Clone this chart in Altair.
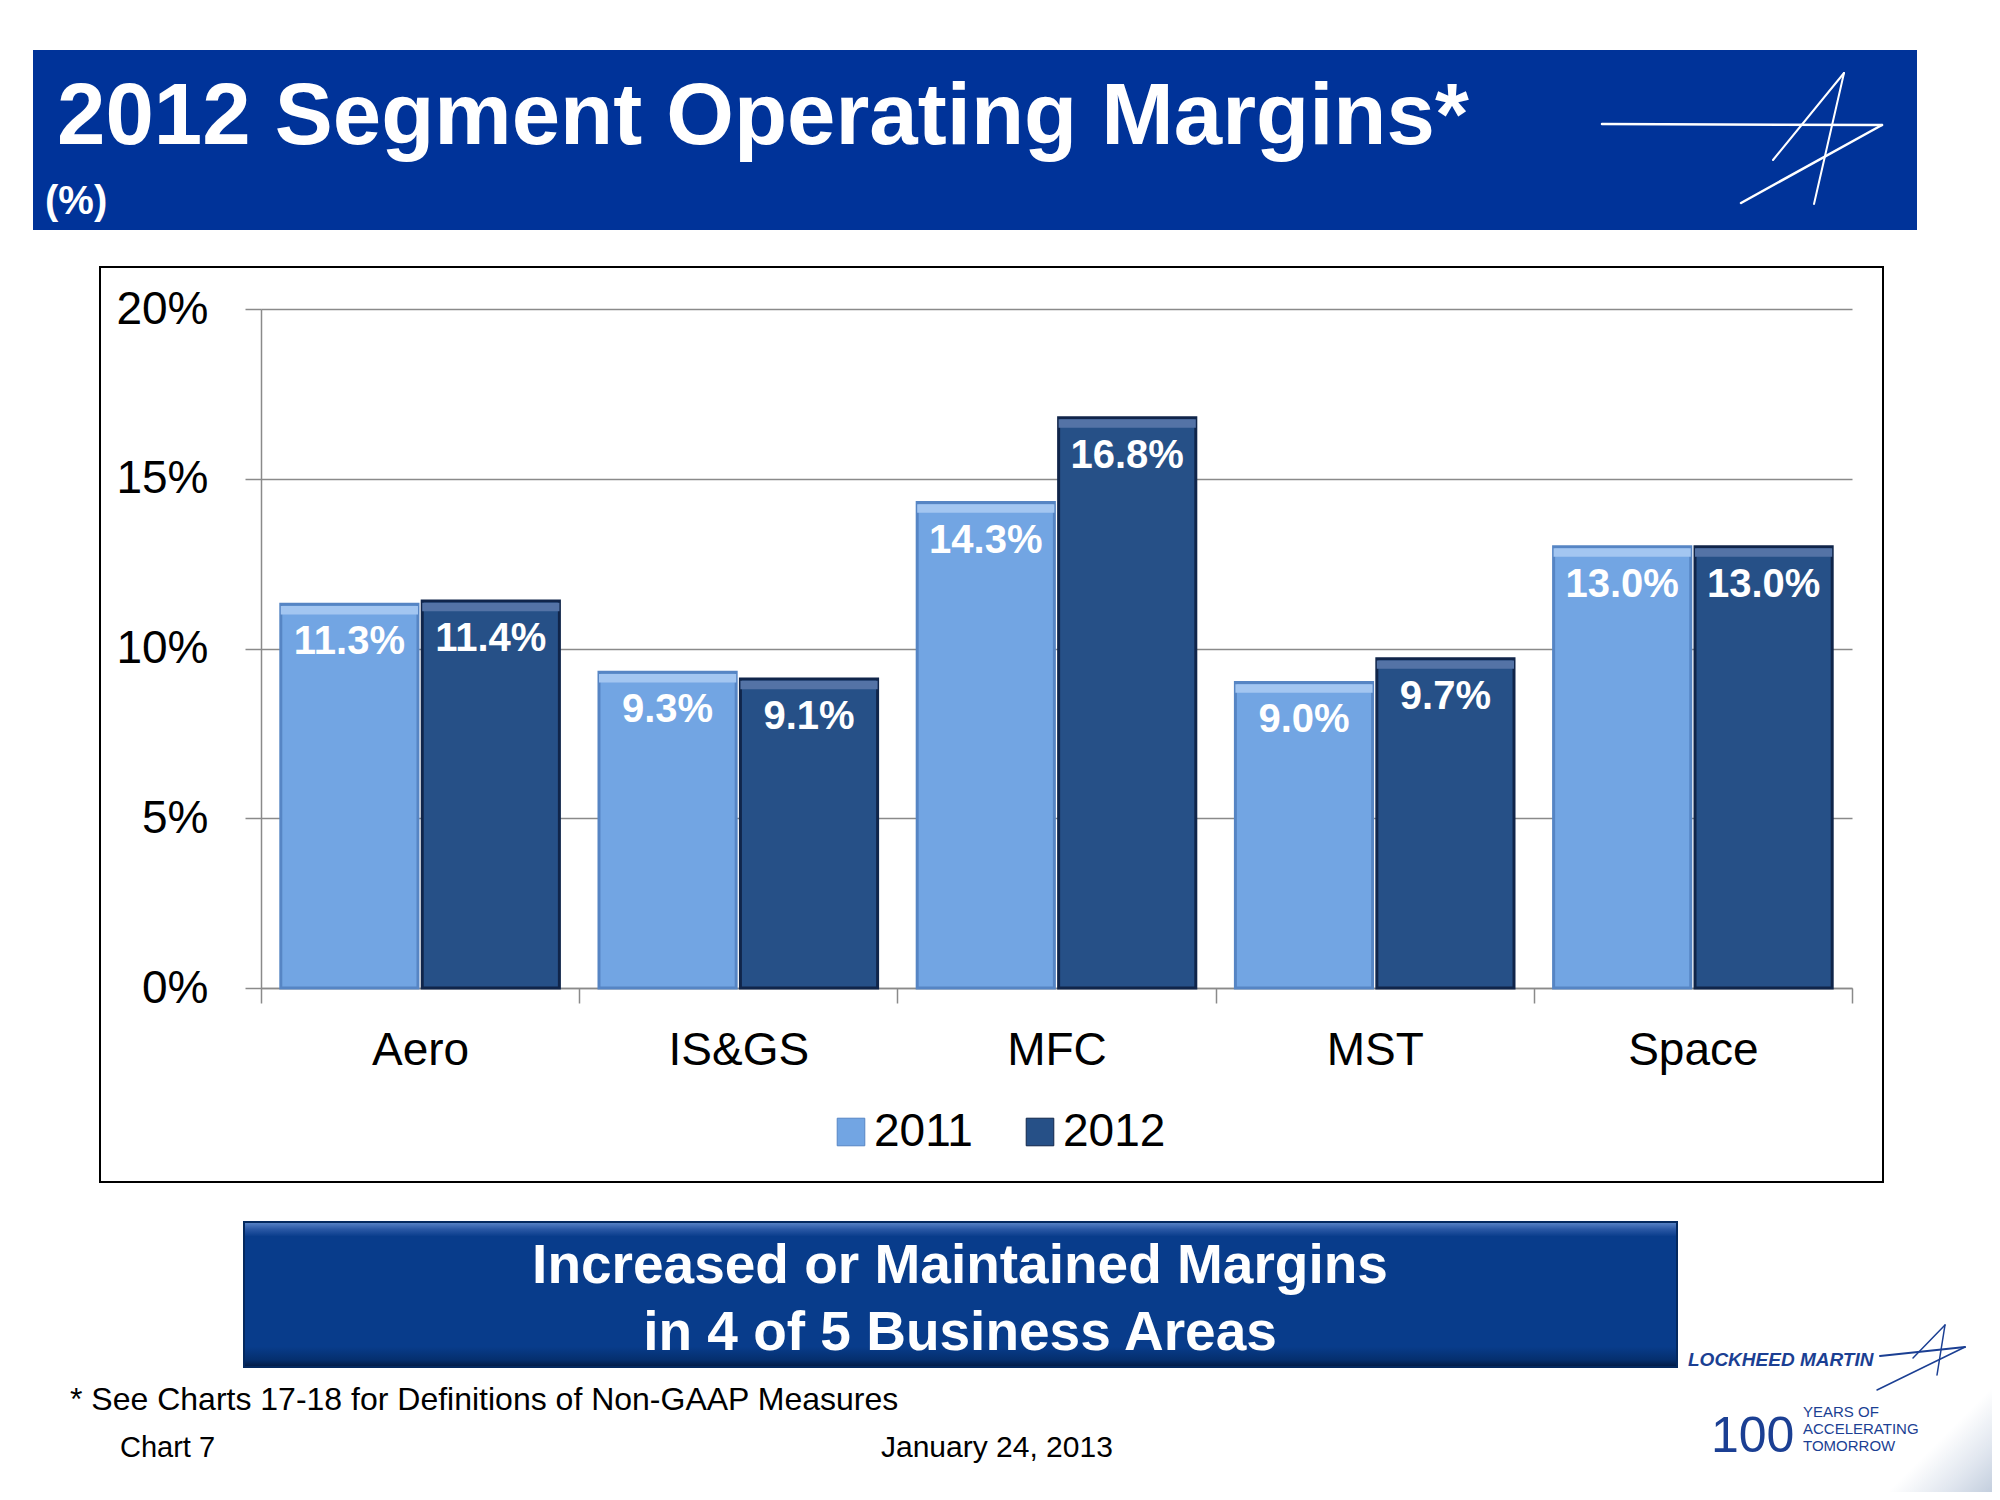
import altair as alt
import pandas as pd

# ---------------- data ----------------
segments = ["Aero", "IS&GS", "MFC", "MST", "Space"]
years = ["2011", "2012"]
margins_2011 = [11.3, 9.3, 14.3, 9.0, 13.0]
margins_2012 = [11.4, 9.1, 16.8, 9.7, 13.0]
y_ticks = [0, 5, 10, 15, 20]

title_text = "2012 Segment Operating Margins*"
unit_text = "(%)"
banner_line1 = "Increased or Maintained Margins"
banner_line2 = "in 4 of 5 Business Areas"
footnote_text = "* See Charts 17-18 for Definitions of Non-GAAP Measures"
chart_no_text = "Chart 7"
date_text = "January 24, 2013"
brand_text = "LOCKHEED MARTIN"
years_text = "100"
tagline = ["YEARS OF", "ACCELERATING", "TOMORROW"]

rows = []
for s, a, b in zip(segments, margins_2011, margins_2012):
    rows.append({"segment": s, "year": years[0], "value": a})
    rows.append({"segment": s, "year": years[1], "value": b})
df = pd.DataFrame(rows)

FONT = "Liberation Sans"
W, H = 1591, 679          # plot area
OX, OY = 261, 309         # plot origin on the page


def px(x):
    return x - OX


def py(y):
    return y - OY


one = pd.DataFrame({"k": [0]})


def text(t, x, y, **kw):
    opts = dict(font=FONT, baseline="alphabetic", align="left")
    opts.update(kw)
    return alt.Chart(one).mark_text(text=t, **opts).encode(
        x=alt.value(px(x)), y=alt.value(py(y)))


def rule(x1, y1, x2, y2, color, w):
    return alt.Chart(one).mark_rule(color=color, strokeWidth=w, strokeCap="round").encode(
        x=alt.value(px(x1)), y=alt.value(py(y1)),
        x2=alt.value(px(x2)), y2=alt.value(py(y2)))


def rect(x1, y1, x2, y2, **kw):
    return alt.Chart(one).mark_rect(**kw).encode(
        x=alt.value(px(x1)), y=alt.value(py(y1)),
        x2=alt.value(px(x2)), y2=alt.value(py(y2)))


GRAY = "#8a8a8a"

# ---------------- decorations ----------------
header = rect(33, 50, 1917, 230, color="#003399")
title = text(title_text, 57, 144, fontSize=87, fontWeight="bold", color="white")
unit = text(unit_text, 45, 214, fontSize=40, fontWeight="bold", color="white")
logo = [
    rule(1602, 124, 1882, 125, "white", 2.5),
    rule(1844, 73, 1814, 204, "white", 2),
    rule(1844, 73, 1773, 160, "white", 2),
    rule(1882, 125, 1741, 203, "white", 2.5),
]

frame = rect(100, 267, 1883, 1182, fillOpacity=0, stroke="black", strokeWidth=2)

banner = rect(
    244, 1222, 1677, 1367,
    color=alt.Gradient(
        gradient="linear", x1=0, y1=0, x2=0, y2=1,
        stops=[
            alt.GradientStop(offset=0, color="#5c87c9"),
            alt.GradientStop(offset=0.05, color="#2a58a5"),
            alt.GradientStop(offset=0.1, color="#083c8b"),
            alt.GradientStop(offset=0.86, color="#083c8b"),
            alt.GradientStop(offset=0.95, color="#052f6e"),
            alt.GradientStop(offset=1, color="#021a42"),
        ]),
    stroke="#04295f", strokeWidth=2)
banner_t1 = text(banner_line1, 960, 1283, fontSize=55, fontWeight="bold",
                 color="white", align="center")
banner_t2 = text(banner_line2, 960, 1350, fontSize=55, fontWeight="bold",
                 color="white", align="center")

footnote = text(footnote_text, 70, 1410, fontSize=32, color="black")
chart_no = text(chart_no_text, 120, 1457, fontSize=29, color="black")
date = text(date_text, 881, 1457, fontSize=30, color="black")

# light swoosh in the bottom-right corner
swoosh = rect(
    1880, 1380, 2000, 1500,
    color=alt.Gradient(
        gradient="linear", x1=0, y1=0, x2=1, y2=1,
        stops=[
            alt.GradientStop(offset=0, color="#ffffff"),
            alt.GradientStop(offset=0.5, color="#ffffff"),
            alt.GradientStop(offset=0.75, color="#dfe5ee"),
            alt.GradientStop(offset=1, color="#b9c6d8"),
        ]))

LMBLUE = "#1b3f93"
brand = text(brand_text, 1688, 1366, fontSize=19, fontWeight="bold",
             fontStyle="italic", color=LMBLUE)
brand_logo = [
    rule(1880, 1356, 1965, 1347, LMBLUE, 2),
    rule(1945, 1325, 1937, 1375, LMBLUE, 1.5),
    rule(1945, 1325, 1913, 1358, LMBLUE, 1.5),
    rule(1965, 1347, 1877, 1390, LMBLUE, 1.5),
]
hundred = text(years_text, 1711, 1452, fontSize=50, color=LMBLUE)
tag = [text(t, 1803, y, fontSize=15, color=LMBLUE)
       for t, y in zip(tagline, [1417, 1434, 1451])]

# ---------------- chart ----------------
x_enc = alt.X(
    "segment:N", sort=segments,
    scale=alt.Scale(paddingInner=0, paddingOuter=0),
    axis=alt.Axis(title=None, tickBand="extent", labelAngle=0, labelFont=FONT,
                  labelFontSize=46, labelColor="black", labelBaseline="middle",
                  labelPadding=47, tickSize=15, tickColor=GRAY, tickWidth=1.5,
                  domainColor=GRAY, domainWidth=1.5))
y_enc = alt.Y(
    "value:Q", scale=alt.Scale(domain=[0, 20], nice=False),
    axis=alt.Axis(title=None, values=y_ticks, labelExpr="datum.value + '%'",
                  labelFont=FONT, labelFontSize=46, labelColor="black",
                  labelPadding=37, tickSize=16, tickColor=GRAY, tickWidth=1.5,
                  domainColor=GRAY, domainWidth=1.5, grid=True,
                  gridColor=GRAY, gridWidth=1.5))
xoff = alt.XOffset("year:N", sort=years,
                   scale=alt.Scale(paddingInner=0.03, paddingOuter=0.14))

base = alt.Chart(df).encode(x=x_enc, xOffset=xoff)

bars = base.mark_bar(strokeWidth=3).encode(
    y=y_enc,
    color=alt.Color(
        "year:N", sort=years,
        scale=alt.Scale(domain=years, range=["#72a5e3", "#265087"]),
        legend=alt.Legend(
            title=None, orient="none", legendX=567, legendY=800,
            direction="horizontal", symbolType="square", symbolSize=760,
            symbolStrokeColor="#2a3f66", symbolStrokeWidth=1,
            labelFont=FONT, labelFontSize=46, labelColor="black",
            labelOffset=0, columnPadding=44, padding=0)),
    stroke=alt.Stroke("year:N", scale=alt.Scale(domain=years,
                                                range=["#5685c4", "#10254a"]),
                      legend=None),
)

highlight = base.transform_calculate(
    top1="datum.value - 0.05", top2="datum.value - 0.3"
).mark_bar().encode(
    y=alt.Y("top1:Q"), y2="top2:Q",
    fill=alt.Fill("year:N", scale=alt.Scale(domain=years,
                                            range=["#a3c6f1", "#5473a6"]),
                  legend=None),
)

labels = base.transform_calculate(
    label="format(datum.value, '.1f') + '%'"
).mark_text(dy=38, baseline="middle", color="white", fontWeight="bold",
            fontSize=40, font=FONT).encode(y=alt.Y("value:Q"), text="label:N")

layers = [header, title, unit] + logo + [frame, banner, banner_t1, banner_t2,
                                           footnote, chart_no, date, swoosh,
                                           brand, hundred] + brand_logo + tag + [
    bars, highlight, labels]

chart = alt.layer(*layers).properties(
    width=W, height=H,
    autosize=alt.AutoSizeParams(type="none"),
    padding={"left": 253, "top": 301, "right": 140, "bottom": 504},
    background="white",
).configure_view(stroke=None)

chart.save("out.html", embed_options={"renderer": "svg", "actions": False})
